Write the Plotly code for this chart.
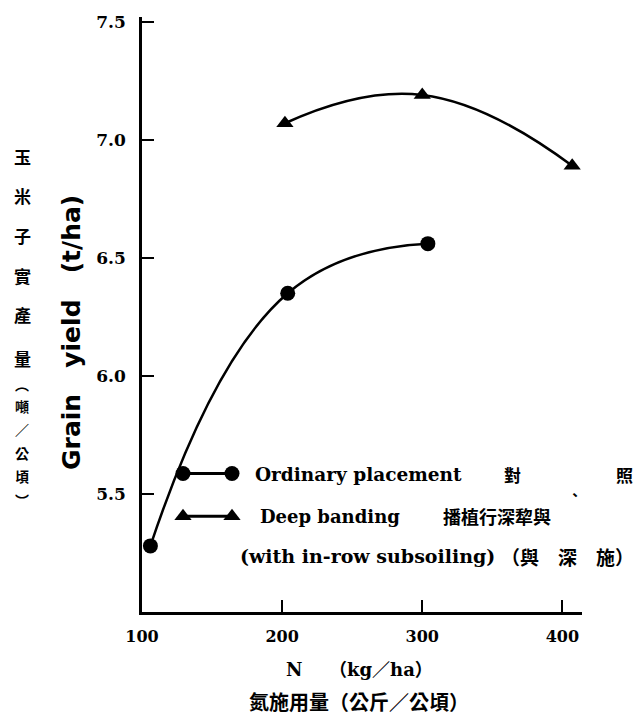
import plotly.graph_objects as go

# ---- data ----
n_ordinary = [106, 204, 304]
yield_ordinary = [5.28, 6.35, 6.56]
n_deep = [202, 300, 407]
yield_deep = [7.07, 7.19, 6.89]
x_ticks = [100, 200, 300, 400]
y_ticks = [5.5, 6.0, 6.5, 7.0, 7.5]

W, H = 637, 719
L, R, T, B = 142, 55, 15, 107
PW, PH = W - L - R, H - T - B

def px(x):
    return (x - L) / PW

def py(y):
    return (H - B - y) / PH

serif = "DejaVu Serif, Noto Sans CJK TC, serif"
sans = "DejaVu Sans, sans-serif"
cjk = "Noto Sans CJK TC"

fig = go.Figure()
line_style = dict(color="black", width=2.5, shape="spline", smoothing=1.3)
fig.add_trace(go.Scatter(x=n_ordinary, y=yield_ordinary, mode="lines+markers",
                         line=line_style, marker=dict(symbol="circle", size=15, color="black"),
                         cliponaxis=False, showlegend=False))
fig.add_trace(go.Scatter(x=n_deep, y=yield_deep, mode="lines+markers",
                         line=line_style, marker=dict(symbol="triangle-up", size=15, color="black"),
                         cliponaxis=False, showlegend=False))

# legend samples (pixel space overlay)
for yy, sym in [(473, "circle"), (516, "triangle-up")]:
    fig.add_trace(go.Scatter(x=[183, 232], y=[yy, yy], xaxis="x2", yaxis="y2",
                             mode="lines+markers", line=dict(color="black", width=3),
                             marker=dict(symbol=sym, size=15, color="black"),
                             cliponaxis=False, showlegend=False, hoverinfo="skip"))

fig.update_layout(
    width=W, height=H, margin=dict(l=L, r=R, t=T, b=B),
    paper_bgcolor="white", plot_bgcolor="white", showlegend=False,
    xaxis=dict(range=[100, 414], tickvals=x_ticks, ticks="inside", ticklen=12,
               tickwidth=2, tickcolor="black", showline=True, linecolor="black",
               linewidth=2.5, showgrid=False, zeroline=False,
               tickfont=dict(family=serif, size=16, color="black", weight="bold"),
               ticklabelstandoff=8),
    yaxis=dict(range=[5.0, 7.52], tickvals=y_ticks, tickformat=".1f", ticks="inside",
               ticklen=12, tickwidth=2, tickcolor="black", showline=True,
               linecolor="black", linewidth=2.5, showgrid=False, zeroline=False,
               tickfont=dict(family=serif, size=17, color="black", weight="bold"),
               ticklabelstandoff=10),
    xaxis2=dict(range=[L, W - R], overlaying="x", visible=False),
    yaxis2=dict(range=[H - B, T], overlaying="y", visible=False),
)

anns = []
def text(x, y, s, size=16, family=serif, xanchor="left", angle=0):
    anns.append(dict(x=px(x), y=py(y), xref="paper", yref="paper", text=s,
                     showarrow=False, xanchor=xanchor, yanchor="middle",
                     textangle=angle, font=dict(family=family, size=size, color="black")))

# y title
text(72, 332, "<b>Grain   yield   (t/ha)</b>", size=25, family=sans,
     xanchor="center", angle=-90)
# Chinese vertical title
chars_top = [("玉", 155), ("米", 194), ("子", 234), ("實", 274), ("產", 314), ("量", 358)]
chars_low = [("︵", 383), ("噸", 405), ("／", 428), ("公", 452), ("頃", 476), ("︶", 500)]
for c, yy in chars_top:
    text(22, yy, "<b>" + c + "</b>", size=17, family=cjk, xanchor="center")
for c, yy in chars_low:
    text(22, yy, "<b>" + c + "</b>", size=14, family=cjk, xanchor="center")

# legend texts
text(253, 474, "<b>Ordinary placement</b>", size=18.5)
text(512, 474, "<b>對</b>", size=17, family=cjk, xanchor="center")
text(575, 494, "<b>、</b>", size=14, family=cjk, xanchor="center")
text(624, 474, "<b>照</b>", size=17, family=cjk, xanchor="center")
text(258, 516, "<b>Deep banding</b>", size=18)
text(441, 516, "<b>播植行深犂與</b>", size=18, family=cjk)
text(238, 556, "<b>(with in-row subsoiling)</b>", size=19)
text(499, 556, "<b>（與　深　施）</b>", size=19, family=cjk)

# x titles
text(284, 670, "<b>N</b>", size=18)
text(327, 670, "<b>（kg／ha）</b>", size=18)
text(359, 702, "<b>氮施用量（公斤／公頃）</b>", size=20, family=cjk, xanchor="center")

fig.update_layout(annotations=anns)
fig.write_html("out.html")
